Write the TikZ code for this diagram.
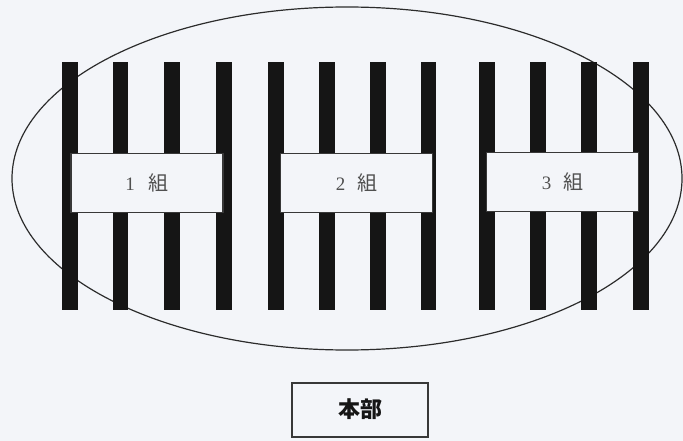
\documentclass[tikz,border=0pt]{standalone}
\usepackage{fontspec}
\setmainfont{Liberation Serif}
\newfontfamily\cjk{Noto Sans CJK JP}
\usetikzlibrary{shapes.geometric}
\definecolor{bg}{HTML}{F3F5F9}
\definecolor{ink}{HTML}{151515}
\definecolor{lbl}{HTML}{505050}
\begin{document}
\begin{tikzpicture}[x=1pt,y=-1pt,
  bar/.style={fill=ink, draw=none, minimum width=15.5pt, minimum height=247pt, inner sep=0pt},
  groupbox/.style={fill=bg, draw=ink!85, line width=1.1pt, minimum width=152pt, minimum height=59pt, inner sep=0pt, text=lbl, font=\fontsize{19}{19}\selectfont},
  hqbox/.style={fill=bg, draw=ink!85, line width=1.1pt, minimum width=136pt, minimum height=54pt, inner sep=0pt, text=ink, font=\fontsize{22}{22}\selectfont\cjk\bfseries},
  field/.style={ellipse, draw=ink!90, line width=1.2pt, minimum width=670pt, minimum height=343pt, inner sep=0pt}]
\path[fill=bg] (0,0) rectangle (683,441);
\useasboundingbox (0,0) rectangle (683,441);
\node[field] (field) at (347,178.5) {};
\foreach \i/\x in {1/70,2/120.5,3/172.2,4/223.8,5/276.2,6/327,7/377.8,8/428.7,9/486.8,10/537.9,11/589.2,12/641}
  \node[bar] (b\i) at (\x,186) {};
\node[groupbox] (g1) at (147,182.8) {1\hspace{14pt}{\cjk\fontsize{20}{20}\selectfont 組}\hspace{8pt}};
\node[groupbox] (g2) at (356.5,182.8) {2\hspace{12pt}{\cjk\fontsize{20}{20}\selectfont 組}\hspace{6pt}};
\node[groupbox] (g3) at (562.5,182) {3\hspace{12pt}{\cjk\fontsize{20}{20}\selectfont 組}\hspace{2pt}};
\node[hqbox] (hq) at (360,410) {\raisebox{3pt}{本部}\hspace{12pt}};
\end{tikzpicture}
\end{document}
